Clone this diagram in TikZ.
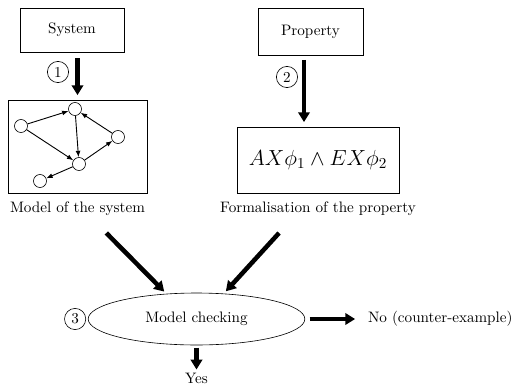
\documentclass[tikz,border=0pt]{standalone}
\usetikzlibrary{arrows.meta,positioning,shapes.geometric}

\begin{document}
\begin{tikzpicture}[
    x=0.66pt, y=-0.66pt,
    every node/.style={font=\normalsize},
    box/.style={draw, align=center, inner sep=0pt},
    state/.style={draw, circle, minimum size=8.6pt, inner sep=0pt},
    stepnum/.style={draw, circle, minimum size=14pt, inner sep=0pt},
    flow/.style={-{Triangle[length=6.5pt, width=7.5pt]}, line width=3pt},
    edge/.style={-{Latex[length=4.2pt, width=3.2pt]}, semithick}
]
\useasboundingbox (0,0) rectangle (511,390);
% inputs
\node[box, minimum width=68.6pt, minimum height=29pt] (system) at (72,30) {System};
\node[box, minimum width=69.3pt, minimum height=31pt] (property) at (310.5,31.5) {Property};
% model and formula
\node[box, minimum width=91.7pt, minimum height=61.4pt] (model) at (77.5,146.5) {};
\node[box, minimum width=107pt, minimum height=43.6pt] (formula) at (318,160) {\Large $AX\phi_1 \wedge EX\phi_2$};
\node[below=2pt of model] (modellabel) {Model of the system};
\node[below=2pt of formula] (formulalabel) {Formalisation of the property};
% states of the model
\node[state] (s1) at (75,109) {};
\node[state] (s2) at (21,126) {};
\node[state] (s3) at (118,137) {};
\node[state] (s4) at (79,164) {};
\node[state] (s5) at (40,181) {};
\draw[edge] (s2) -- (s1);
\draw[edge] (s2) -- (s4);
\draw[edge] (s1) -- (s4);
\draw[edge] (s3) -- (s1);
\draw[edge] (s4) -- (s3);
\draw[edge] (s4) -- (s5);
% checking
\node[draw, ellipse, minimum width=143pt, minimum height=34.3pt, inner sep=0pt] (check) at (196.5,319) {Model checking};
\node[right=38pt of check] (no) {No (counter-example)};
\node[below=17pt of check, inner sep=1pt] (yes) {Yes};
% step numbers
\node[stepnum] (one) at (58,72) {1};
\node[stepnum] (two) at (287,77) {2};
\node[stepnum, left=1.2pt of check] (three) {3};
% arrows
\draw[flow, shorten <=4pt, shorten >=3pt] (model.north |- system.south) -- (model.north);
\draw[flow, shorten <=3pt, shorten >=3pt] ([xshift=-4.3pt]property.south) -- ([xshift=-4.3pt]property.south |- formula.north);
\draw[flow, shorten >=2pt] ([xshift=19pt,yshift=-8pt]modellabel.south) -- (check.140);
\draw[flow, shorten >=2pt] ([xshift=-25.7pt,yshift=-8pt]formulalabel.south) -- (check.43);
\draw[flow, shorten <=3pt, shorten >=5pt] (check.east) -- (no.west);
\draw[flow, shorten <=1.5pt, shorten >=1pt] (check.south) -- (yes.north);
\end{tikzpicture}
\end{document}
